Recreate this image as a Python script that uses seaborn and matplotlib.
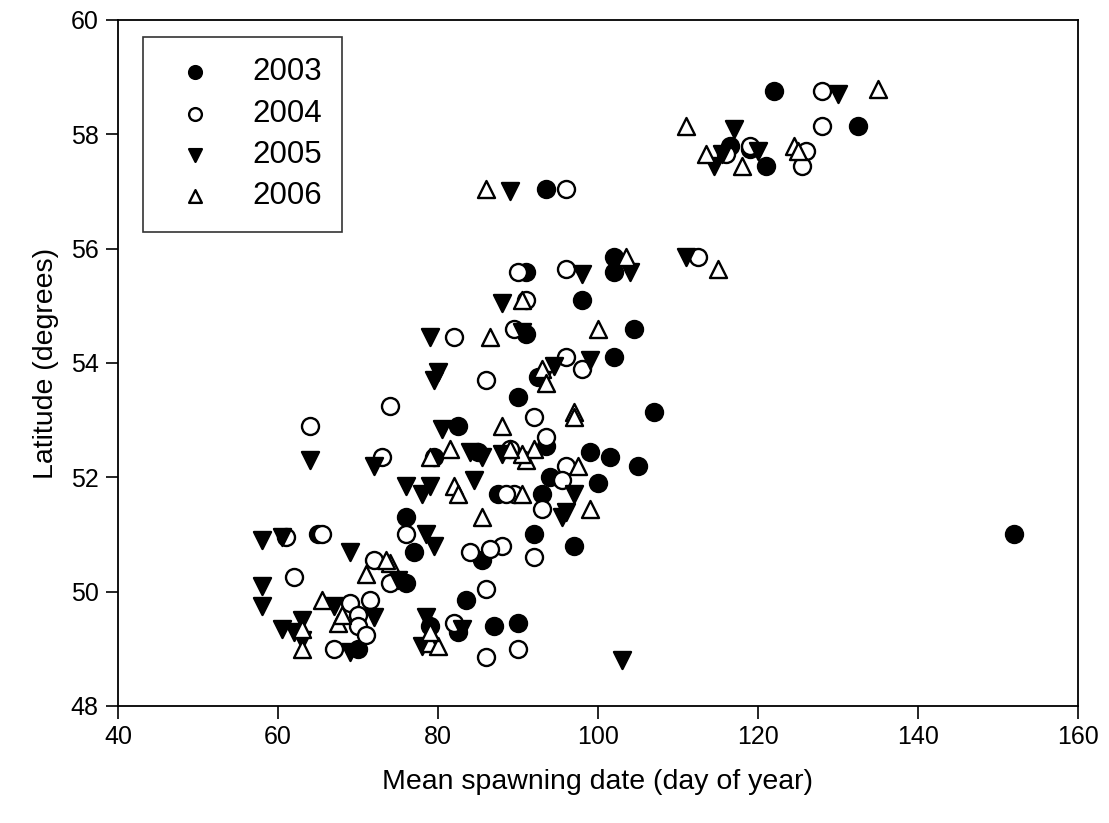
import matplotlib
matplotlib.use("Agg")
import matplotlib.pyplot as plt
import seaborn as sns
import pandas as pd

years = ["2003", "2004", "2005", "2006"]

x2003 = [122, 132.5, 116.5, 119, 121, 93.5, 102, 102, 91, 104.5, 98, 91, 102, 92.5, 107,
         99, 101.5, 105, 100, 94, 93, 87.5, 92, 97, 82.5, 79.5, 76, 77, 76, 85.5, 83.5,
         87, 90, 82.5, 79, 70, 65, 152, 93.5, 85, 90]
y2003 = [58.75, 58.15, 57.8, 57.75, 57.45, 57.05, 55.85, 55.6, 55.6, 54.6, 55.1, 54.5, 54.1, 53.75, 53.15,
         52.45, 52.35, 52.2, 51.9, 52.0, 51.7, 51.7, 51.0, 50.8, 52.9, 52.35, 51.3, 50.7, 50.15, 50.55, 49.85,
         49.4, 49.45, 49.3, 49.4, 49.0, 51.0, 51.0, 52.55, 52.45, 53.4]

x2004 = [128, 128, 126, 125.5, 119, 116, 96, 112.5, 96, 90, 91, 89.5, 96, 98, 92, 93.5, 96, 95.5,
         93, 89.5, 88.5, 92, 90, 86, 86, 88, 86.5, 84, 82, 82, 86, 74, 73, 64, 61, 65.5, 62, 72,
         69, 70, 71.5, 70, 71, 67, 74, 76, 89]
y2004 = [58.75, 58.15, 57.7, 57.45, 57.8, 57.65, 57.05, 55.85, 55.65, 55.6, 55.1, 54.6, 54.1, 53.9, 53.05, 52.7, 52.2, 51.95,
         51.45, 51.7, 51.7, 50.6, 49.0, 48.85, 50.05, 50.8, 50.75, 50.7, 49.45, 54.45, 53.7, 53.25, 52.35, 52.9, 50.95, 51.0, 50.25, 50.55,
         49.8, 49.6, 49.85, 49.4, 49.25, 49.0, 50.15, 51.0, 52.5]

x2005 = [130, 117, 114.5, 115.5, 120, 89, 111, 104, 98, 88, 90.5, 99, 94.5, 93, 79, 80, 79.5,
         80.5, 72, 64, 76, 79, 78, 84, 85.5, 84.5, 88, 95.5, 96, 97, 78.5, 79.5, 69, 75,
         58, 60.5, 58, 58, 60.5, 62, 63, 63, 67, 72, 69, 78, 78.5, 83, 103]
y2005 = [58.7, 58.1, 57.45, 57.65, 57.7, 57.0, 55.85, 55.6, 55.55, 55.05, 54.55, 54.05, 53.95, 53.7, 54.45, 53.85, 53.7,
         52.85, 52.2, 52.3, 51.85, 51.85, 51.7, 52.45, 52.35, 51.95, 52.4, 51.3, 51.4, 51.7, 51.0, 50.8, 50.7, 50.2,
         50.9, 50.95, 50.1, 49.75, 49.35, 49.3, 49.5, 49.15, 49.75, 49.55, 48.95, 49.05, 49.55, 49.35, 48.8]

x2006 = [135, 111, 113.5, 118, 124.5, 125, 86, 103.5, 115, 90.5, 100, 86.5, 93, 93.5, 97, 97,
         88, 81.5, 82, 82.5, 85.5, 91, 92, 90.5, 89, 97.5, 99, 90.5, 79, 74, 73.5, 71,
         65.5, 67.5, 68, 63, 63, 79, 80, 79]
y2006 = [58.8, 58.15, 57.65, 57.45, 57.8, 57.7, 57.05, 55.85, 55.65, 55.1, 54.6, 54.45, 53.9, 53.65, 53.15, 53.05,
         52.9, 52.5, 51.85, 51.7, 51.3, 52.3, 52.5, 52.4, 52.5, 52.2, 51.45, 51.7, 52.35, 50.5, 50.55, 50.3,
         49.85, 49.45, 49.6, 49.35, 49.0, 49.1, 49.05, 49.3]

xs = [x2003, x2004, x2005, x2006]
ys = [y2003, y2004, y2005, y2006]

frames = []
for yr, xv, yv in zip(years, xs, ys):
    frames.append(pd.DataFrame({"x": xv, "y": yv, "year": yr}))
df = pd.concat(frames, ignore_index=True)

sns.set_style("white")
plt.rcParams["font.family"] = ["Liberation Sans", "DejaVu Sans"]
plt.rcParams["text.color"] = "black"
plt.rcParams["axes.labelcolor"] = "black"
plt.rcParams["xtick.color"] = "black"
plt.rcParams["ytick.color"] = "black"

fig = plt.figure(figsize=(11.09, 8.23), dpi=100)
ax = fig.add_axes([0.1064, 0.1422, 0.8656, 0.8335])

styles = {
    "2003": dict(marker="o", facecolor="black"),
    "2004": dict(marker="o", facecolor="white"),
    "2005": dict(marker="v", facecolor="black"),
    "2006": dict(marker="^", facecolor="white"),
}
for yr in years:
    sub = df[df["year"] == yr]
    st = styles[yr]
    sns.scatterplot(data=sub, x="x", y="y", ax=ax, marker=st["marker"],
                    color=st["facecolor"], edgecolor="black", linewidth=1.7,
                    s=150, label=yr, zorder=3)

ax.set_xlim(40, 160)
ax.set_ylim(48, 60)
ax.set_xticks([40, 60, 80, 100, 120, 140, 160])
ax.set_yticks([48, 50, 52, 54, 56, 58, 60])
ax.tick_params(axis="both", direction="out", length=9, width=1.2, labelsize=18,
               bottom=True, left=True, colors="black", labelcolor="black", pad=5)
for sp in ax.spines.values():
    sp.set_color("black")
    sp.set_linewidth(1.3)
ax.set_xlabel("Mean spawning date (day of year)", fontsize=20.5, labelpad=14, color="black")
ax.set_ylabel("Latitude (degrees)", fontsize=20.5, labelpad=8, color="black")

leg = ax.legend(loc="upper left", bbox_to_anchor=(0.026, 0.975), frameon=True,
                fancybox=False, edgecolor="black", fontsize=22.5, markerscale=0.75,
                handletextpad=0.8, borderpad=0.65, labelspacing=0.36, borderaxespad=0,
                handlelength=2.05, labelcolor="black")
leg.get_frame().set_linewidth(1.2)

fig.savefig("out.png", dpi=100)
